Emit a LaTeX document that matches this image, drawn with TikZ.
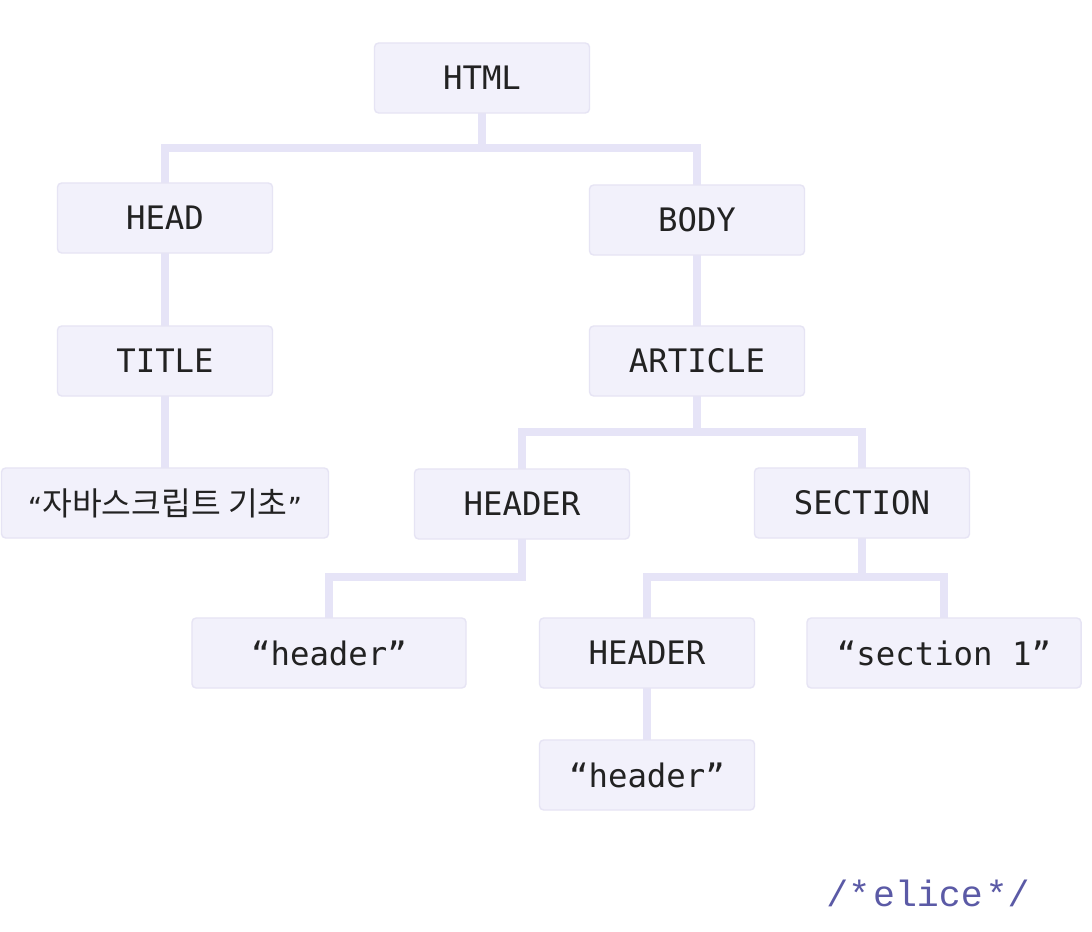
\documentclass[tikz,border=0pt]{standalone}
\usepackage{fontspec}
\usepackage{xcolor}
\usepackage{tikz}
\usetikzlibrary{positioning}
\newfontfamily\domfont{DejaVu Sans Mono}
\newfontfamily\krfont{Noto Sans CJK KR}
\newfontfamily\logofont{Liberation Mono}
\definecolor{boxfill}{HTML}{F2F1FB}
\definecolor{boxline}{HTML}{E6E4F4}
\definecolor{linkcol}{HTML}{E6E4F7}
\definecolor{logocol}{HTML}{5B5AA6}
\definecolor{textcol}{HTML}{222222}

\begin{document}
\begin{tikzpicture}[
        x=0.025cm, y=-0.025cm,
        box/.style={rectangle, draw=boxline, fill=boxfill, line width=1pt, rounded corners=3pt, text centered, text=textcol, minimum width=5.375cm, minimum height=1.75cm, font=\domfont\fontsize{23}{28}\selectfont},
        wide/.style={box, minimum width=6.85cm},
        link/.style={draw=linkcol, line width=0.21cm}
        ]

        \fill[white] (0,0) rectangle (1092,932);
        \useasboundingbox (0,0) rectangle (1092,932);

        % connectors first, so the boxes sit on top
        \coordinate (c-html) at (482,78);
        \coordinate (c-head) at (165,218);
        \coordinate (c-body) at (697,220);
        \coordinate (c-title) at (165,361);
        \coordinate (c-article) at (697,361);
        \coordinate (c-jstext) at (165,503);
        \coordinate (c-header) at (522,504);
        \coordinate (c-section) at (862,503);
        \coordinate (c-headtext) at (329,653);
        \coordinate (c-subheader) at (647,653);
        \coordinate (c-sectext) at (944,653);
        \coordinate (c-subtext) at (647,775);

        \draw[link] (c-html) -- ++(0,70) -| (c-head);
        \draw[link] (c-html) -- ++(0,70) -| (c-body);
        \draw[link] (c-head) -- (c-title);
        \draw[link] (c-title) -- (c-jstext);
        \draw[link] (c-body) -- (c-article);
        \draw[link] (c-article) -- ++(0,71) -| (c-header);
        \draw[link] (c-article) -- ++(0,71) -| (c-section);
        \draw[link] (c-header) -- ++(0,73) -| (c-headtext);
        \draw[link] (c-section) -- ++(0,74) -| (c-subheader);
        \draw[link] (c-section) -- ++(0,74) -| (c-sectext);
        \draw[link] (c-subheader) -- (c-subtext);

        \node[box] (html) at (c-html) {HTML};
        \node[box] (head) at (c-head) {HEAD};
        \node[box] (body) at (c-body) {BODY};
        \node[box] (title) at (c-title) {TITLE};
        \node[box] (article) at (c-article) {ARTICLE};
        \node[box, minimum width=8.175cm] (jstext) at (c-jstext) {{\fontsize{17}{20}\selectfont “}{\krfont\fontsize{23}{28}\selectfont 자바스크립트 기초}{\fontsize{17}{20}\selectfont ”}};
        \node[box] (header) at (c-header) {HEADER};
        \node[box] (section) at (c-section) {SECTION};
        \node[wide] (headtext) at (c-headtext) {“header”};
        \node[box] (subheader) at (c-subheader) {HEADER};
        \node[wide] (sectext) at (c-sectext) {“section 1”};
        \node[box] (subtext) at (c-subtext) {“header”};

        \node[text=logocol, font=\logofont\fontsize{26}{30}\selectfont] (logo) at (928,893) {/*\kern2pt elice\kern2pt */};
    \end{tikzpicture}
\end{document}
